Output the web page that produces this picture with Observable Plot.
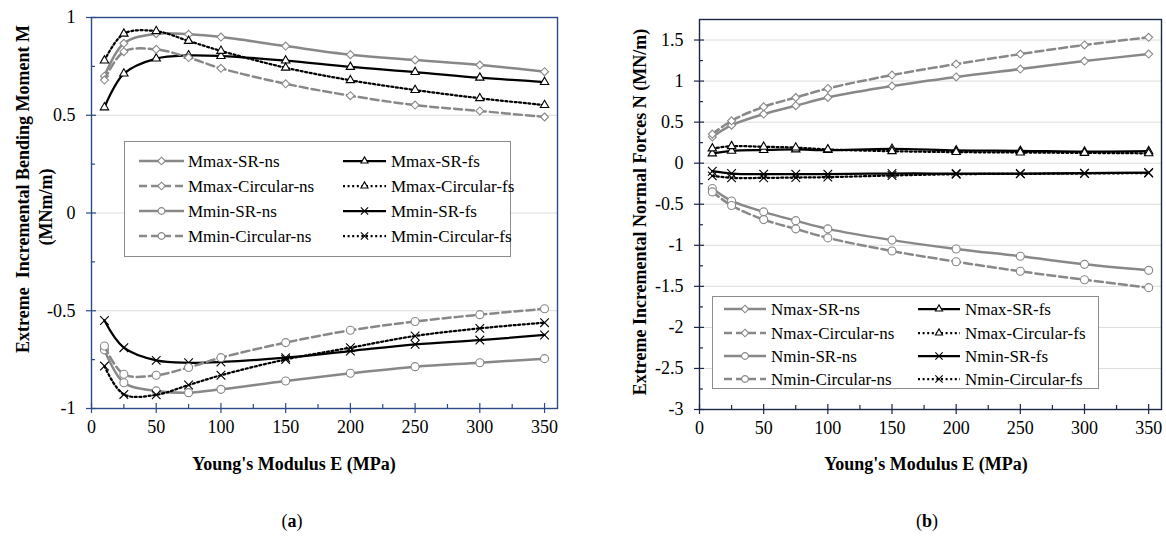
<!DOCTYPE html>
<html><head><meta charset="utf-8">
<script src="https://cdn.jsdelivr.net/npm/d3@7"></script>
<script src="https://cdn.jsdelivr.net/npm/@observablehq/plot@0.6"></script>
<style>
body{margin:0;background:#fff;font-family:"Liberation Serif","Times New Roman",serif;}
#wrap{position:relative;width:1166px;height:543px;overflow:hidden;background:#fff;}
.panel{position:absolute;top:0;}
.legend{position:absolute;background:#fff;border:1px solid #8c8c8c;box-sizing:border-box;}
.legend .t{position:absolute;font-size:17px;white-space:nowrap;transform:translateY(-50%);line-height:1;}
.legend svg{position:absolute;overflow:visible;}
.ttl{position:absolute;font-weight:bold;font-size:18px;white-space:nowrap;text-align:center;line-height:1;}
.cap{position:absolute;font-size:18px;transform:translate(-50%,-50%);white-space:nowrap;}
</style></head><body><div id="wrap"></div>
<script>
// ---------- data ----------
const E = [10, 25, 50, 75, 100, 150, 200, 250, 300, 350];
const xTicks = [0, 50, 100, 150, 200, 250, 300, 350];
const xMinor = [25, 75, 125, 175, 225, 275, 325];
const mTicks = [-1, -0.5, 0, 0.5, 1];
const mMinor = [-0.75, -0.25, 0.25, 0.75];
const nTicks = [-3, -2.5, -2, -1.5, -1, -0.5, 0, 0.5, 1, 1.5];
const nMinor = [-2.75, -2.25, -1.75, -1.25, -0.75, -0.25, 0.25, 0.75, 1.25];

// (a) bending moments
const mNames = ["Mmax-SR-ns", "Mmax-SR-fs", "Mmax-Circular-ns", "Mmax-Circular-fs",
                "Mmin-SR-ns", "Mmin-SR-fs", "Mmin-Circular-ns", "Mmin-Circular-fs"];
const MmaxSRns   = [0.70, 0.868, 0.917, 0.914, 0.90, 0.854, 0.81, 0.783, 0.757, 0.723];
const MmaxSRfs   = [0.54, 0.713, 0.79, 0.806, 0.803, 0.78, 0.747, 0.721, 0.692, 0.67];
const MmaxCircns = [0.68, 0.825, 0.837, 0.795, 0.74, 0.661, 0.60, 0.552, 0.522, 0.491];
const MmaxCircfs = [0.78, 0.917, 0.93, 0.88, 0.829, 0.743, 0.679, 0.629, 0.587, 0.552];
const MminSRns   = [-0.70, -0.868, -0.91, -0.919, -0.902, -0.859, -0.82, -0.786, -0.766, -0.745];
const MminSRfs   = [-0.55, -0.689, -0.754, -0.766, -0.762, -0.74, -0.706, -0.672, -0.65, -0.624];
const MminCircns = [-0.68, -0.825, -0.83, -0.79, -0.74, -0.663, -0.60, -0.555, -0.52, -0.49];
const MminCircfs = [-0.783, -0.928, -0.93, -0.88, -0.83, -0.749, -0.689, -0.629, -0.59, -0.561];
const mValues = [MmaxSRns, MmaxSRfs, MmaxCircns, MmaxCircfs, MminSRns, MminSRfs, MminCircns, MminCircfs];

// (b) normal forces
const nNames = ["Nmax-SR-ns", "Nmax-SR-fs", "Nmax-Circular-ns", "Nmax-Circular-fs",
                "Nmin-SR-ns", "Nmin-SR-fs", "Nmin-Circular-ns", "Nmin-Circular-fs"];
const NmaxSRns   = [0.32, 0.463, 0.598, 0.70, 0.80, 0.939, 1.05, 1.146, 1.244, 1.329];
const NmaxSRfs   = [0.118, 0.15, 0.16, 0.167, 0.159, 0.175, 0.155, 0.15, 0.14, 0.146];
const NmaxCircns = [0.354, 0.516, 0.687, 0.80, 0.91, 1.073, 1.207, 1.329, 1.44, 1.533];
const NmaxCircfs = [0.179, 0.207, 0.20, 0.19, 0.167, 0.146, 0.135, 0.13, 0.125, 0.12];
const NminSRns   = [-0.309, -0.46, -0.593, -0.70, -0.80, -0.937, -1.045, -1.134, -1.232, -1.305];
const NminSRfs   = [-0.098, -0.126, -0.134, -0.134, -0.134, -0.126, -0.126, -0.126, -0.122, -0.114];
const NminCircns = [-0.35, -0.516, -0.687, -0.80, -0.91, -1.07, -1.20, -1.317, -1.42, -1.516];
const NminCircfs = [-0.154, -0.179, -0.179, -0.175, -0.17, -0.15, -0.134, -0.13, -0.126, -0.12];
const nValues = [NmaxSRns, NmaxSRfs, NmaxCircns, NmaxCircfs, NminSRns, NminSRfs, NminCircns, NminCircfs];

// ---------- styles ----------
const GRAY = "#888888", BLACK = "#000000";
function styleOf(name) {
  const ns = name.endsWith("-ns"), circ = name.includes("Circular"), max = name.includes("max");
  return {
    stroke: ns ? GRAY : BLACK,
    width: ns ? 2.5 : 2.25,
    dash: circ ? (ns ? "8,4" : "2,2.6") : null,
    symbol: max ? (ns ? "diamond2" : "triangle2") : (ns ? "circle" : "times"),
    r: max && ns ? 3.6 : 4
  };
}
const symMap = {diamond2: d3.symbolDiamond2, triangle2: d3.symbolTriangle2, circle: d3.symbolCircle, times: d3.symbolTimes};
const fmt = d => String(d);

function chart(cfg) {
  const rows = [];
  cfg.names.forEach((n, k) => cfg.values[k].forEach((v, i) => rows.push({name: n, E: E[i], v})));
  const marks = [Plot.gridY(cfg.grid, {stroke: "#dcdcdc", strokeOpacity: 1, strokeWidth: 1})];
  cfg.names.forEach(n => {
    const s = styleOf(n);
    const d = rows.filter(r => r.name === n);
    marks.push(Plot.line(d, {x: "E", y: "v", stroke: s.stroke, strokeWidth: s.width,
      strokeDasharray: s.dash, curve: "catmull-rom"}));
    marks.push(Plot.dot(d, {x: "E", y: "v", symbol: () => s.symbol, r: s.r, stroke: s.stroke,
      fill: "white", strokeWidth: 1.1}));
  });
  marks.push(Plot.frame({stroke: cfg.axisColor, strokeWidth: 1.4}));
  const lab = {fontSize: 18, fill: "black", label: null, tickFormat: fmt};
  marks.push(
    Plot.axisX(xTicks, {...lab, tickSize: 0, tickPadding: 12}),
    Plot.axisX(xTicks, {tickSize: 10, dy: -5, fill: "none", label: null, stroke: cfg.axisColor, strokeWidth: 1.2}),
    Plot.axisX(xMinor, {tickSize: 4, dy: -4, fill: "none", label: null, stroke: cfg.axisColor, strokeWidth: 1.2}),
    Plot.axisY(cfg.ticks, {...lab, tickSize: 0, tickPadding: 16}),
    Plot.axisY(cfg.ticks, {tickSize: 10, dx: 5, fill: "none", label: null, stroke: cfg.axisColor, strokeWidth: 1.2}),
    Plot.axisY(cfg.minor, {tickSize: 4, dx: 4, fill: "none", label: null, stroke: cfg.axisColor, strokeWidth: 1.2})
  );
  return Plot.plot({
    width: 583, height: 440,
    marginLeft: cfg.ml, marginRight: cfg.mr, marginTop: cfg.mt, marginBottom: 440 - cfg.bottom,
    x: {domain: [0, 360]},
    y: {domain: cfg.domain},
    style: {fontFamily: "'Liberation Serif','Times New Roman',serif", fontSize: "18px", background: "white", color: "black"},
    marks
  });
}

function legend(cfg) {
  const box = document.createElement("div");
  box.className = "legend";
  Object.assign(box.style, {left: cfg.left + "px", top: cfg.top + "px", width: cfg.width + "px", height: cfg.height + "px"});
  const cols = [cfg.names.filter(n => n.endsWith("-ns")), cfg.names.filter(n => n.endsWith("-fs"))];
  cols.forEach((list, c) => list.forEach((n, r) => {
    const s = styleOf(n);
    const y = cfg.rows[r];
    const [a, b, tx] = cfg.cols[c];
    const w = b - a;
    const svg = d3.create("svg").attr("width", w).attr("height", 16)
      .style("left", a + "px").style("top", (y - 8) + "px");
    svg.append("line").attr("x1", 0).attr("x2", w).attr("y1", 8).attr("y2", 8)
      .attr("stroke", s.stroke).attr("stroke-width", s.width).attr("stroke-dasharray", s.dash);
    svg.append("path").attr("d", d3.symbol(symMap[s.symbol], Math.PI * 3.4 * 3.4)())
      .attr("transform", `translate(${w / 2},8)`)
      .attr("fill", "white").attr("stroke", s.stroke).attr("stroke-width", 1.1);
    box.appendChild(svg.node());
    const t = document.createElement("div");
    t.className = "t"; t.textContent = n;
    t.style.left = tx + "px"; t.style.top = y + "px";
    box.appendChild(t);
  }));
  return box;
}

function place(el, left, top) {
  const d = document.createElement("div");
  d.className = "panel"; d.style.left = left + "px"; d.style.top = top + "px";
  d.appendChild(el);
  return d;
}

const wrap = document.getElementById("wrap");
wrap.appendChild(place(chart({names: mNames, values: mValues, domain: [-1, 1], ticks: mTicks, minor: mMinor,
  grid: [-0.5, 0, 0.5], ml: 91, mr: 26, mt: 17, bottom: 408, axisColor: "#2b4a87"}), 0, 0));
wrap.appendChild(place(chart({names: nNames, values: nValues, domain: [-3, 1.75], ticks: nTicks, minor: nMinor,
  grid: [-2.5, -2, -1.5, -1, -0.5, 0, 0.5, 1, 1.5], ml: 116, mr: 5, mt: 19, bottom: 409, axisColor: "#1b2747"}), 583, 0));

wrap.appendChild(legend({names: mNames, left: 124, top: 141, width: 387, height: 116,
  rows: [19, 44, 69, 94], cols: [[14, 59, 63], [218, 261, 266]]}));
wrap.appendChild(legend({names: nNames, left: 712, top: 296, width: 387, height: 93,
  rows: [12, 35.5, 59, 82], cols: [[11, 53, 58], [205, 247, 252]]}));

function title(html, cx, cy, rotate) {
  const d = document.createElement("div");
  d.className = "ttl"; d.innerHTML = html;
  d.style.left = cx + "px"; d.style.top = cy + "px";
  d.style.transform = "translate(-50%,-50%)" + (rotate ? " rotate(-90deg)" : "");
  wrap.appendChild(d);
}
title("Extreme&nbsp;&nbsp;Incremental Bending Moment M", 23, 189, true);
title("(MNm/m)", 46, 207, true);
title("Young's Modulus E (MPa)", 294, 464, false);
title("Extreme Incremental Normal Forces N (MN/m)", 640, 212, true);
title("Young's Modulus E (MPa)", 926, 464, false);

function cap(html, cx, cy) {
  const d = document.createElement("div");
  d.className = "cap"; d.innerHTML = html;
  d.style.left = cx + "px"; d.style.top = cy + "px";
  wrap.appendChild(d);
}
cap("(<b>a</b>)", 292, 521);
cap("(<b>b</b>)", 927, 521);
</script></body></html>
